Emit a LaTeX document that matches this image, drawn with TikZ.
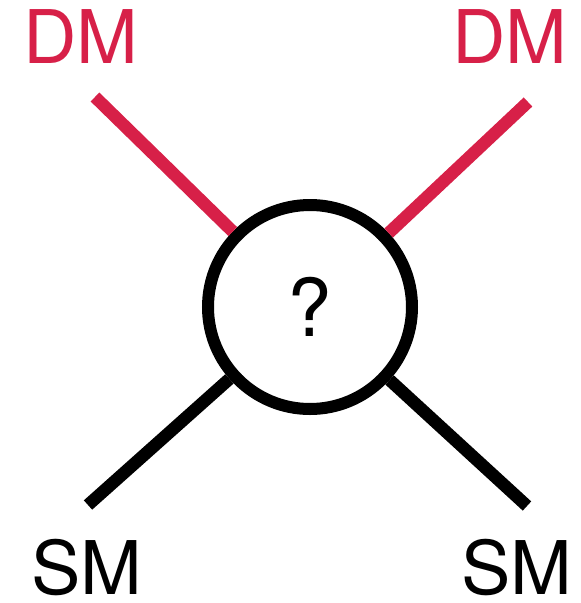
\documentclass[tikz,border=0pt]{standalone}
\usepackage{fontspec}
\setmainfont{TeX Gyre Heros}
\usepackage{xcolor}
\definecolor{dmred}{RGB}{215,32,72}

\begin{document}
\begin{tikzpicture}[x=1pt, y=-1pt, line cap=butt]
  \tikzset{
    leg/.style={line width=12.5pt},
    lbl/.style={inner sep=0pt, font=\fontsize{74}{74}\selectfont}
  }
  \useasboundingbox (0,0) rectangle (581,603);
  % vertex
  \node[circle, draw, line width=12pt, minimum size=204pt, inner sep=0pt,
        font=\fontsize{80}{80}\selectfont] (blob) at (310,307) {?};
  % outer ends of the legs
  \coordinate (tl) at (95,97);
  \coordinate (tr) at (528,102);
  \coordinate (bl) at (88,505);
  \coordinate (br) at (527,506);
  \draw[leg, dmred] (tl) -- (blob);
  \draw[leg, dmred] (tr) -- (blob);
  \draw[leg] (bl) -- (blob);
  \draw[leg] (br) -- (blob);
  % labels
  \node[lbl, text=dmred] (dmL) at (81,36.5) {DM};
  \node[lbl, text=dmred] (dmR) at (510,36.5) {DM};
  \node[lbl] (smL) at (87,568) {SM};
  \node[lbl] (smR) at (517,568) {SM};
\end{tikzpicture}
\end{document}
